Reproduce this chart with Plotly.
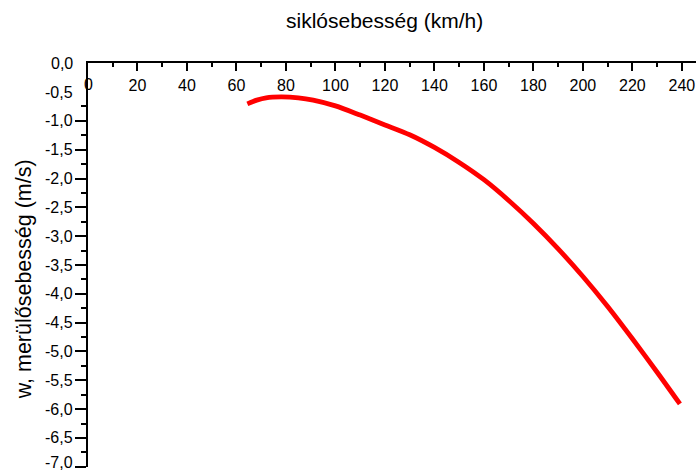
import plotly.graph_objects as go

# data
speed_kmh = [64.4, 68.2, 72, 78, 85, 91, 100, 110, 120, 130, 140, 150, 160, 170, 180, 190, 200, 210, 220, 230, 239.2]
sink_ms = [-0.705, -0.64, -0.60, -0.585, -0.60, -0.64, -0.74, -0.90, -1.07, -1.24, -1.46, -1.72, -2.02, -2.38, -2.78, -3.22, -3.70, -4.22, -4.78, -5.36, -5.91]

x_tickvals = [0, 20, 40, 60, 80, 100, 120, 140, 160, 180, 200, 220, 240]
y_tickvals = [0.0, -0.5, -1.0, -1.5, -2.0, -2.5, -3.0, -3.5, -4.0, -4.5, -5.0, -5.5, -6.0, -6.5, -7.0]
y_ticktext = ["0,0", "-0,5", "-1,0", "-1,5", "-2,0", "-2,5", "-3,0", "-3,5", "-4,0", "-4,5", "-5,0", "-5,5", "-6,0", "-6,5", "-7,0"]

x_title = "siklósebesség (km/h)"
y_title = "w, merülősebesség (m/s)"

font_family = "Arial, Liberation Sans, sans-serif"

fig = go.Figure()
fig.add_trace(go.Scatter(
    x=speed_kmh, y=sink_ms, mode="lines",
    line=dict(color="#ff0000", width=4.8, shape="spline", smoothing=0.8),
    showlegend=False, hoverinfo="skip",
))

annotations = [
    dict(text="0", xref="x", yref="paper", x=0, y=1, yshift=-21,
         xanchor="center", yanchor="middle", showarrow=False,
         font=dict(size=16, family=font_family, color="black")),
    dict(text=x_title, xref="paper", yref="paper", x=0.488, y=1.106,
         xanchor="center", yanchor="middle", showarrow=False,
         font=dict(size=21, family=font_family, color="black")),
    dict(text=y_title, xref="paper", yref="paper", x=-0.105, y=0.465,
         xanchor="center", yanchor="middle", showarrow=False, textangle=-90,
         font=dict(size=21.5, family=font_family, color="black")),
]
# y tick labels as text placed through the y axis scale
for v, t in zip(y_tickvals, y_ticktext):
    annotations.append(dict(text=t, xref="paper", yref="y", x=-0.021, y=v,
                            xanchor="right", yanchor="middle", showarrow=False,
                            yshift=4 if v == min(y_tickvals) else 0,
                            font=dict(size=16, family=font_family, color="black")))

fig.update_layout(
    width=696, height=473,
    margin=dict(l=88, r=0, t=62.7, b=6),
    paper_bgcolor="white", plot_bgcolor="white",
    font=dict(family=font_family, size=16, color="black"),
    xaxis=dict(
        range=[0, 245.7], side="top",
        showgrid=False, zeroline=False,
        showline=True, linecolor="black", linewidth=1.5,
        tickmode="array", tickvals=x_tickvals,
        ticks="inside", ticklen=8, tickwidth=1.5, tickcolor="black",
        ticklabelposition="inside", ticklabelstandoff=9,
        tickfont=dict(size=16, family=font_family, color="black"),
        minor=dict(dtick=10, tick0=0, ticks="inside", ticklen=4, tickwidth=1.5, tickcolor="black", showgrid=False),
        fixedrange=True,
    ),
    yaxis=dict(
        range=[-7.004, 0.004],
        showgrid=False, zeroline=False,
        showline=True, linecolor="black", linewidth=1.5,
        tickmode="array", tickvals=y_tickvals, showticklabels=False,
        ticks="outside", ticklen=11, tickwidth=1.5, tickcolor="black",
        minor=dict(dtick=0.25, tick0=0, ticks="outside", ticklen=5.5, tickwidth=1.5, tickcolor="black", showgrid=False),
        fixedrange=True,
    ),
    annotations=annotations,
)

fig.write_html("out.html")
